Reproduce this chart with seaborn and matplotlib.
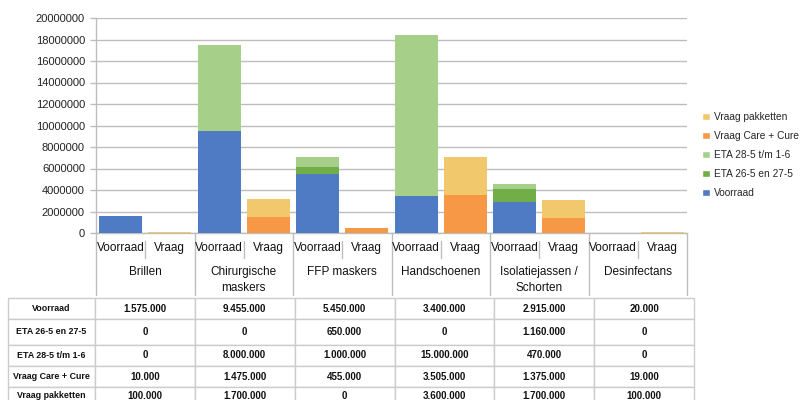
import matplotlib
matplotlib.use("Agg")
import matplotlib.pyplot as plt
import matplotlib.transforms as mtransforms
from matplotlib.patches import Patch
import pandas as pd
import seaborn as sns

groups = ["Brillen", "Chirurgische\nmaskers", "FFP maskers", "Handschoenen",
          "Isolatiejassen /\nSchorten", "Desinfectans"]
sub_labels = ["Voorraad", "Vraag"]
voorraad = [1575000, 9455000, 5450000, 3400000, 2915000, 20000]
eta_26_27 = [0, 0, 650000, 0, 1160000, 0]
eta_28_1 = [0, 8000000, 1000000, 15000000, 470000, 0]
vraag_care = [10000, 1475000, 455000, 3505000, 1375000, 19000]
vraag_pakketten = [100000, 1700000, 0, 3600000, 1700000, 100000]

series_names = ["Voorraad", "ETA 26-5 en 27-5", "ETA 28-5 t/m 1-6",
                "Vraag Care + Cure", "Vraag pakketten"]
colors = ["#4E7BC4", "#72AE48", "#A6D08A", "#F69845", "#F2C86C"]

sns.set_theme(style="white")
plt.rcParams["font.family"] = ["Liberation Sans", "DejaVu Sans"]

# one row per bar slot, two slots (Voorraad / Vraag) per group
rows = []
for i in range(len(groups)):
    rows.append({"slot": f"{i}-Voorraad", "Voorraad": voorraad[i],
                 "ETA 26-5 en 27-5": eta_26_27[i], "ETA 28-5 t/m 1-6": eta_28_1[i],
                 "Vraag Care + Cure": 0, "Vraag pakketten": 0})
    rows.append({"slot": f"{i}-Vraag", "Voorraad": 0,
                 "ETA 26-5 en 27-5": 0, "ETA 28-5 t/m 1-6": 0,
                 "Vraag Care + Cure": vraag_care[i], "Vraag pakketten": vraag_pakketten[i]})
df = pd.DataFrame(rows)
cum = df[series_names].cumsum(axis=1)
order = list(df["slot"])

fig = plt.figure(figsize=(8, 4), dpi=100)
ax = fig.add_axes([96 / 800, 167 / 400, 591 / 800, 215 / 400])

# stacked bars: draw cumulative totals from the top series down
for name, col in reversed(list(zip(series_names, colors))):
    sns.barplot(x=df["slot"], y=cum[name], order=order, color=col,
                width=0.87, saturation=1, linewidth=0, ax=ax, zorder=3)

ax.set_ylim(0, 20000000)
ax.set_xlim(-0.5, len(order) - 0.5)
ax.set_yticks(range(0, 20000001, 2000000))
ax.set_yticklabels([str(v) for v in range(0, 20000001, 2000000)], fontsize=8, color="#222222")
ax.yaxis.grid(True, color="#BDBDBD", linewidth=1, zorder=0)
ax.set_axisbelow(True)
ax.tick_params(axis="y", left=True, length=4, color="#BDBDBD", width=1, pad=4)
ax.set_xticks([])
ax.set_xlabel("")
ax.set_ylabel("")
for s in ["top", "right"]:
    ax.spines[s].set_visible(False)
for s in ["left", "bottom"]:
    ax.spines[s].set_color("#BDBDBD")
    ax.spines[s].set_linewidth(1)

# category labels below the axis
trans = mtransforms.blended_transform_factory(ax.transData, ax.transAxes)
px = 1 / 215
for k in range(len(order)):
    ax.text(k, -15 * px, sub_labels[k % 2], transform=trans, ha="center", va="center",
            fontsize=8.5, color="#111111")
for i, g in enumerate(groups):
    ax.text(2 * i + 0.5, -33 * px, g, transform=trans, ha="center", va="top",
            fontsize=8.5, color="#111111", linespacing=1.4)
    # short separator between Voorraad and Vraag
    ax.plot([2 * i + 0.5, 2 * i + 0.5], [-8 * px, -25 * px], transform=trans,
            color="#BDBDBD", linewidth=1, clip_on=False)
for i in range(len(groups) + 1):
    ax.plot([2 * i - 0.5, 2 * i - 0.5], [0, -62 * px], transform=trans,
            color="#BDBDBD", linewidth=1, clip_on=False)

# legend
handles = [Patch(facecolor=c, label=n) for n, c in zip(series_names, colors)][::-1]
fig.legend(handles=handles, loc="upper left", bbox_to_anchor=(697 / 800, 1 - 107 / 400),
           frameon=False, fontsize=7.3, handlelength=0.75, handleheight=0.75,
           handletextpad=0.4, labelspacing=0.88, borderpad=0)

# data table under the chart
def fmt(v):
    return f"{v:,}".replace(",", ".")

table_rows = [voorraad, eta_26_27, eta_28_1, vraag_care, vraag_pakketten]
cell_text = [[name] + [fmt(v) for v in vals] for name, vals in zip(series_names, table_rows)]
row_h = [21, 26, 21, 21, 18]
tax = fig.add_axes([8 / 800, -5 / 400, 686 / 800, sum(row_h) / 400])
tax.axis("off")
first_w = 87 / 686
col_w = (1 - first_w) / len(groups)
tbl = tax.table(cellText=cell_text, cellLoc="center", bbox=[0, 0, 1, 1],
                colWidths=[first_w] + [col_w] * len(groups))
tbl.auto_set_font_size(False)
for (r, c), cell in tbl.get_celld().items():
    cell.set_height(row_h[r] / sum(row_h))
    cell.set_edgecolor("#CCCCCC")
    cell.set_linewidth(1)
    cell.get_text().set_fontsize(6.4 if c == 0 else 7)
    cell.get_text().set_fontweight("bold")
    cell.get_text().set_color("#111111")

fig.savefig("out.png", dpi=100)
plt.close(fig)
